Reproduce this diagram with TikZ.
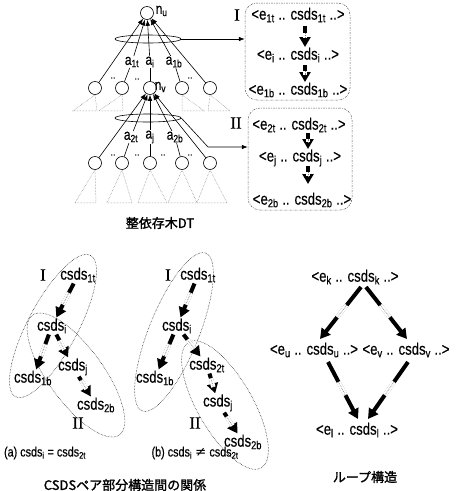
\documentclass[tikz,border=0pt]{standalone}
\usepackage{fontspec}
\setmainfont[FakeStretch=0.8,FakeBold=0.4]{Liberation Sans}
\newfontfamily\rmserif[FakeBold=0.5]{Liberation Serif}
\newfontfamily\jpfont[FakeBold=1.5]{Noto Sans CJK JP}
\newfontfamily\symfont{DejaVu Sans}
\usetikzlibrary{shapes.geometric,arrows.meta,calc}
\newcommand{\sbs}[1]{\textsubscript{#1}}
\newcommand{\fatarrow}[2]{%
  \draw[fat] (#1) -- (#2);
  \draw[white,line width=4.4pt] ($(#1)!0.35!(#2)$) -- ($(#1)!0.58!(#2)$);
  \draw[gray,line width=0.7pt,densely dotted] ($(#1)!0.35!(#2)$) -- ($(#1)!0.58!(#2)$);}
\begin{document}
\begin{tikzpicture}[x=1pt,y=-1pt,
  circ/.style={circle,draw,line width=0.6pt,inner sep=0pt,minimum size=13pt},
  lab/.style={inner sep=0.5pt,font=\fontsize{15}{15}\selectfont},
  dts/.style={inner sep=0pt,font=\fontsize{11}{11}\selectfont},
  tarr/.style={line width=0.6pt,-{Latex[length=6pt,width=4.5pt]}},
  bundle/.style={ellipse,draw,line width=0.6pt,minimum width=66pt,minimum height=8pt,inner sep=0pt},
  tri/.style={gray,densely dotted,line width=0.5pt},
  txt/.style={inner sep=1pt,font=\fontsize{16.5}{16.5}\selectfont},
  captxt/.style={inner sep=1pt,font=\fontsize{13.5}{13.5}\selectfont},
  box/.style={draw,gray!70!black,rounded corners=12pt,line width=0.5pt,dash pattern=on 2pt off 1.2pt on 0.6pt off 1.2pt},
  fat/.style={line width=4pt,-{Triangle[length=10pt,width=11pt]}},
  roman/.style={font=\rmserif\fontsize{17}{17}\selectfont,inner sep=0pt},
  blob/.style={ellipse,draw,densely dotted,line width=0.5pt,inner sep=0pt},
  jcap/.style={font=\jpfont\fontsize{13}{13}\selectfont,inner sep=0pt},
]
\fill[white] (0,0) rectangle (456,491);
\useasboundingbox (0,0) rectangle (456,491);

% ---------------- tree ----------------
\node[circ] (nu) at (147,13) {};
\node[lab,anchor=west] (nul) at (155,11) {n\sbs{u}};
\node[circ] (p1) at (95,88) {};
\node[circ] (p2) at (122,88) {};
\node[circ] (nv) at (150,88) {};
\node[circ] (p4) at (182,88) {};
\node[circ] (p5) at (210,88) {};
\node[lab,anchor=west] (nvl) at (154,87) {n\sbs{v}};
\node[circ] (q1) at (95,163) {};
\node[circ] (q2) at (122,163) {};
\node[circ] (q3) at (150,163) {};
\node[circ] (q4) at (182,163) {};
\node[circ] (q5) at (210,163) {};

\node[lab] (la1) at (132,62) {a\sbs{1t}};
\node[lab] (lai) at (150,62) {a\sbs{i}};
\node[lab] (la1b) at (174,62) {a\sbs{1b}};
\node[lab] (lb2t) at (131,137) {a\sbs{2t}};
\node[lab] (lbj) at (150,137) {a\sbs{j}};
\node[lab] (lb2b) at (175,137) {a\sbs{2b}};

\foreach \n/\x/\y in {d1/113/78,d2/137/79,d3/190/78,d4/113/155,d5/137/155,d6/163/155,d7/190/155}
  \node[dts] (\n) at (\x,\y) {..};

\draw[tarr] (p1) -- (nu);
\draw[tarr] (la1) -- (nu);
\draw[tarr] (lai) -- (nu);
\draw[tarr] (la1b) -- (nu);
\draw[tarr] (p5) -- (nu);
\draw[line width=0.6pt] (la1) -- (p2);
\draw[line width=0.6pt] (lai) -- (nv);
\draw[line width=0.6pt] (la1b) -- (p4);

\draw[tarr] (q1) -- (nv);
\draw[tarr] (lb2t) -- (nv);
\draw[tarr] (lbj) -- (nv);
\draw[tarr] (lb2b) -- (nv);
\draw[tarr] (q5) -- (nv);
\draw[line width=0.6pt] (lb2t) -- (q2);
\draw[line width=0.6pt] (lbj) -- (q3);
\draw[line width=0.6pt] (lb2b) -- (q4);

\node[bundle] (bunI) at (148,39) {};
\node[bundle] (bunII) at (148,118) {};

\draw[tri] (p1.south) -- ++(-22,16) -- ++(24,0) -- cycle;
\draw[tri] (p2.south) -- ++(-23,16) -- ++(24,0) -- cycle;
\draw[tri] (p4.south) -- ++(0,16) -- ++(22,0) -- cycle;
\draw[tri] (p5.south) -- ++(-2,16) -- ++(22,0) -- cycle;
\draw[tri] (q1.south) -- ++(-20,33) -- ++(21,0) -- cycle;
\draw[tri] (q2.south) -- ++(-15,33) -- ++(25,0) -- cycle;
\draw[tri] (q3.south) -- ++(-12,33) -- ++(29,0) -- cycle;
\draw[tri] (q4.south) -- ++(-14,33) -- ++(29,0) -- cycle;
\draw[tri] (q5.south) -- ++(-13,33) -- ++(30,0) -- cycle;

% ---------------- boxes ----------------
\node[box,minimum width=105pt,minimum height=97pt] (boxI) at (297.5,51.5) {};
\node[box,minimum width=104pt,minimum height=102pt] (boxII) at (300,159) {};
\node[roman] (rI) at (237,15) {I};
\node[roman] (rII) at (236,123) {II};
\node[txt] (e1t) at (298,15) {<e\sbs{1t} .. csds\sbs{1t} ..>};
\node[txt] (ei) at (298,55) {<e\sbs{i} .. csds\sbs{i} ..>};
\node[txt] (e1b) at (298,90) {<e\sbs{1b} .. csds\sbs{1b} ..>};
\node[txt] (e2t) at (299,125) {<e\sbs{2t} .. csds\sbs{2t} ..>};
\node[txt] (ej) at (300,158) {<e\sbs{j} .. csds\sbs{j} ..>};
\node[txt] (e2b) at (302,200) {<e\sbs{2b} .. csds\sbs{2b} ..>};
\coordinate (c1a) at (305,26); \coordinate (c1b) at (305,47);
\coordinate (c2a) at (305,65); \coordinate (c2b) at (305,82);
\coordinate (c3a) at (308,133); \coordinate (c3b) at (308,149);
\coordinate (c4a) at (308,166); \coordinate (c4b) at (308,184);
\fatarrow{c1a}{c1b}
\fatarrow{c2a}{c2b}
\fatarrow{c3a}{c3b}
\fatarrow{c4a}{c4b}

\draw[tarr] (bunI.east) -- (bunI.east -| boxI.west);
\coordinate (bend) at (208,147);
\draw[tarr] (bunII.east) -- (bend) -- (bend -| boxII.west);

\node[jcap] (capT) at (160,223) {整依存木DT};

% ---------------- panel (a) ----------------
\node[blob,minimum width=160pt,minimum height=50pt,rotate=62] (aeI) at (53,326) {};
\node[blob,minimum width=148pt,minimum height=55pt,rotate=-54] (aeII) at (76,375) {};
\node[roman] (aI) at (43,275) {I};
\node[txt] (a1t) at (78,275) {csds\sbs{1t}};
\node[txt] (ai) at (52,326) {csds\sbs{i}};
\node[txt] (a1b) at (33,378) {csds\sbs{1b}};
\node[txt] (aj) at (73,367) {csds\sbs{j}};
\node[txt] (a2b) at (96,405) {csds\sbs{2b}};
\node[roman] (aII) at (78,423) {II};
\fatarrow{a1t}{ai}
\fatarrow{ai}{a1b}
\fatarrow{ai}{aj}
\fatarrow{aj}{a2b}
\node[captxt] (capa) at (45,453) {(a) csds\sbs{i} = csds\sbs{2t}};

% ---------------- panel (b) ----------------
\node[blob,minimum width=170pt,minimum height=50pt,rotate=68] (beI) at (174,332) {};
\node[blob,minimum width=145pt,minimum height=55pt,rotate=-60] (beII) at (225,405) {};
\node[roman] (bIl) at (168,275) {I};
\node[txt] (b1t) at (198,275) {csds\sbs{1t}};
\node[txt] (bi) at (177,326) {csds\sbs{i}};
\node[txt] (b1b) at (155,378) {csds\sbs{1b}};
\node[txt] (b2t) at (207,365) {csds\sbs{2t}};
\node[txt] (bj) at (218,403) {csds\sbs{j}};
\node[txt] (b2b) at (243,442) {csds\sbs{2b}};
\node[roman] (bIIl) at (195,423) {II};
\fatarrow{b1t}{bi}
\fatarrow{bi}{b1b}
\fatarrow{bi}{b2t}
\fatarrow{b2t}{bj}
\fatarrow{bj}{b2b}
\node[captxt] (capb) at (195,453) {(b) csds\sbs{i} {\symfont ≠} csds\sbs{2t}};

\node[jcap] (capR) at (125,485) {CSDSペア部分構造間の関係};

% ---------------- loop ----------------
\node[txt] (k) at (355,277) {<e\sbs{k} .. csds\sbs{k} ..>};
\node[txt] (u) at (314,350) {<e\sbs{u} .. csds\sbs{u} ..>};
\node[txt] (v) at (406,350) {<e\sbs{v} .. csds\sbs{v} ..>};
\node[txt] (l) at (357,430) {<e\sbs{l} .. csds\sbs{l} ..>};
\coordinate (kL) at (361,287); \coordinate (uT) at (320,339);
\coordinate (kR) at (366,287); \coordinate (vT) at (407,339);
\coordinate (uB) at (328,362); \coordinate (lTL) at (358,419);
\coordinate (vB) at (408,362); \coordinate (lTR) at (368,419);
\fatarrow{kL}{uT}
\fatarrow{kR}{vT}
\fatarrow{uB}{lTL}
\fatarrow{vB}{lTR}
\node[jcap] (capL) at (365,477) {ループ構造};
\end{tikzpicture}
\end{document}
